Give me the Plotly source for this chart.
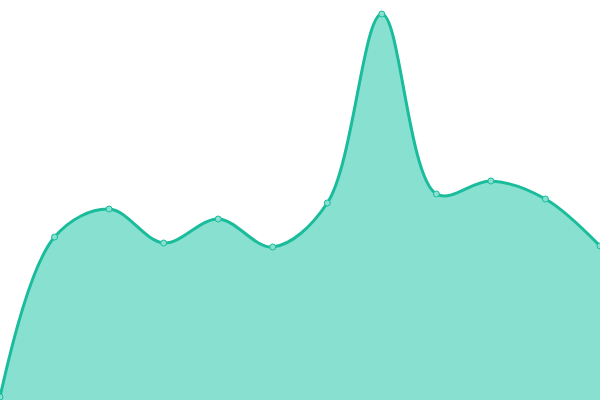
import plotly.graph_objects as go

# one value per point
points = list(range(12))
values = [3, 163, 191, 157, 181, 153, 197, 386, 206, 219, 201, 154]

line_color = '#1abc9c'
fill_color = '#88e0d0'

fig = go.Figure()
fig.add_trace(go.Scatter(
    x=points,
    y=values,
    mode='lines+markers',
    line=dict(color=line_color, width=3, shape='spline', smoothing=1),
    marker=dict(size=6, color=fill_color, line=dict(color=line_color, width=1)),
    fill='tozeroy',
    fillcolor=fill_color,
    cliponaxis=False,
    ))

fig.update_layout(
    width=600, height=400,
    margin=dict(l=0, r=0, t=0, b=0),
    paper_bgcolor='white', plot_bgcolor='white',
    showlegend=False,
    xaxis=dict(range=[0, 11], visible=False, fixedrange=True),
    yaxis=dict(range=[0, 400], visible=False, fixedrange=True),
    )

# drop the page's default body margin so the chart sits at 0,0
fig.write_html("out.html", config={"displayModeBar": False},
               post_script="document.body.style.margin='0';")
